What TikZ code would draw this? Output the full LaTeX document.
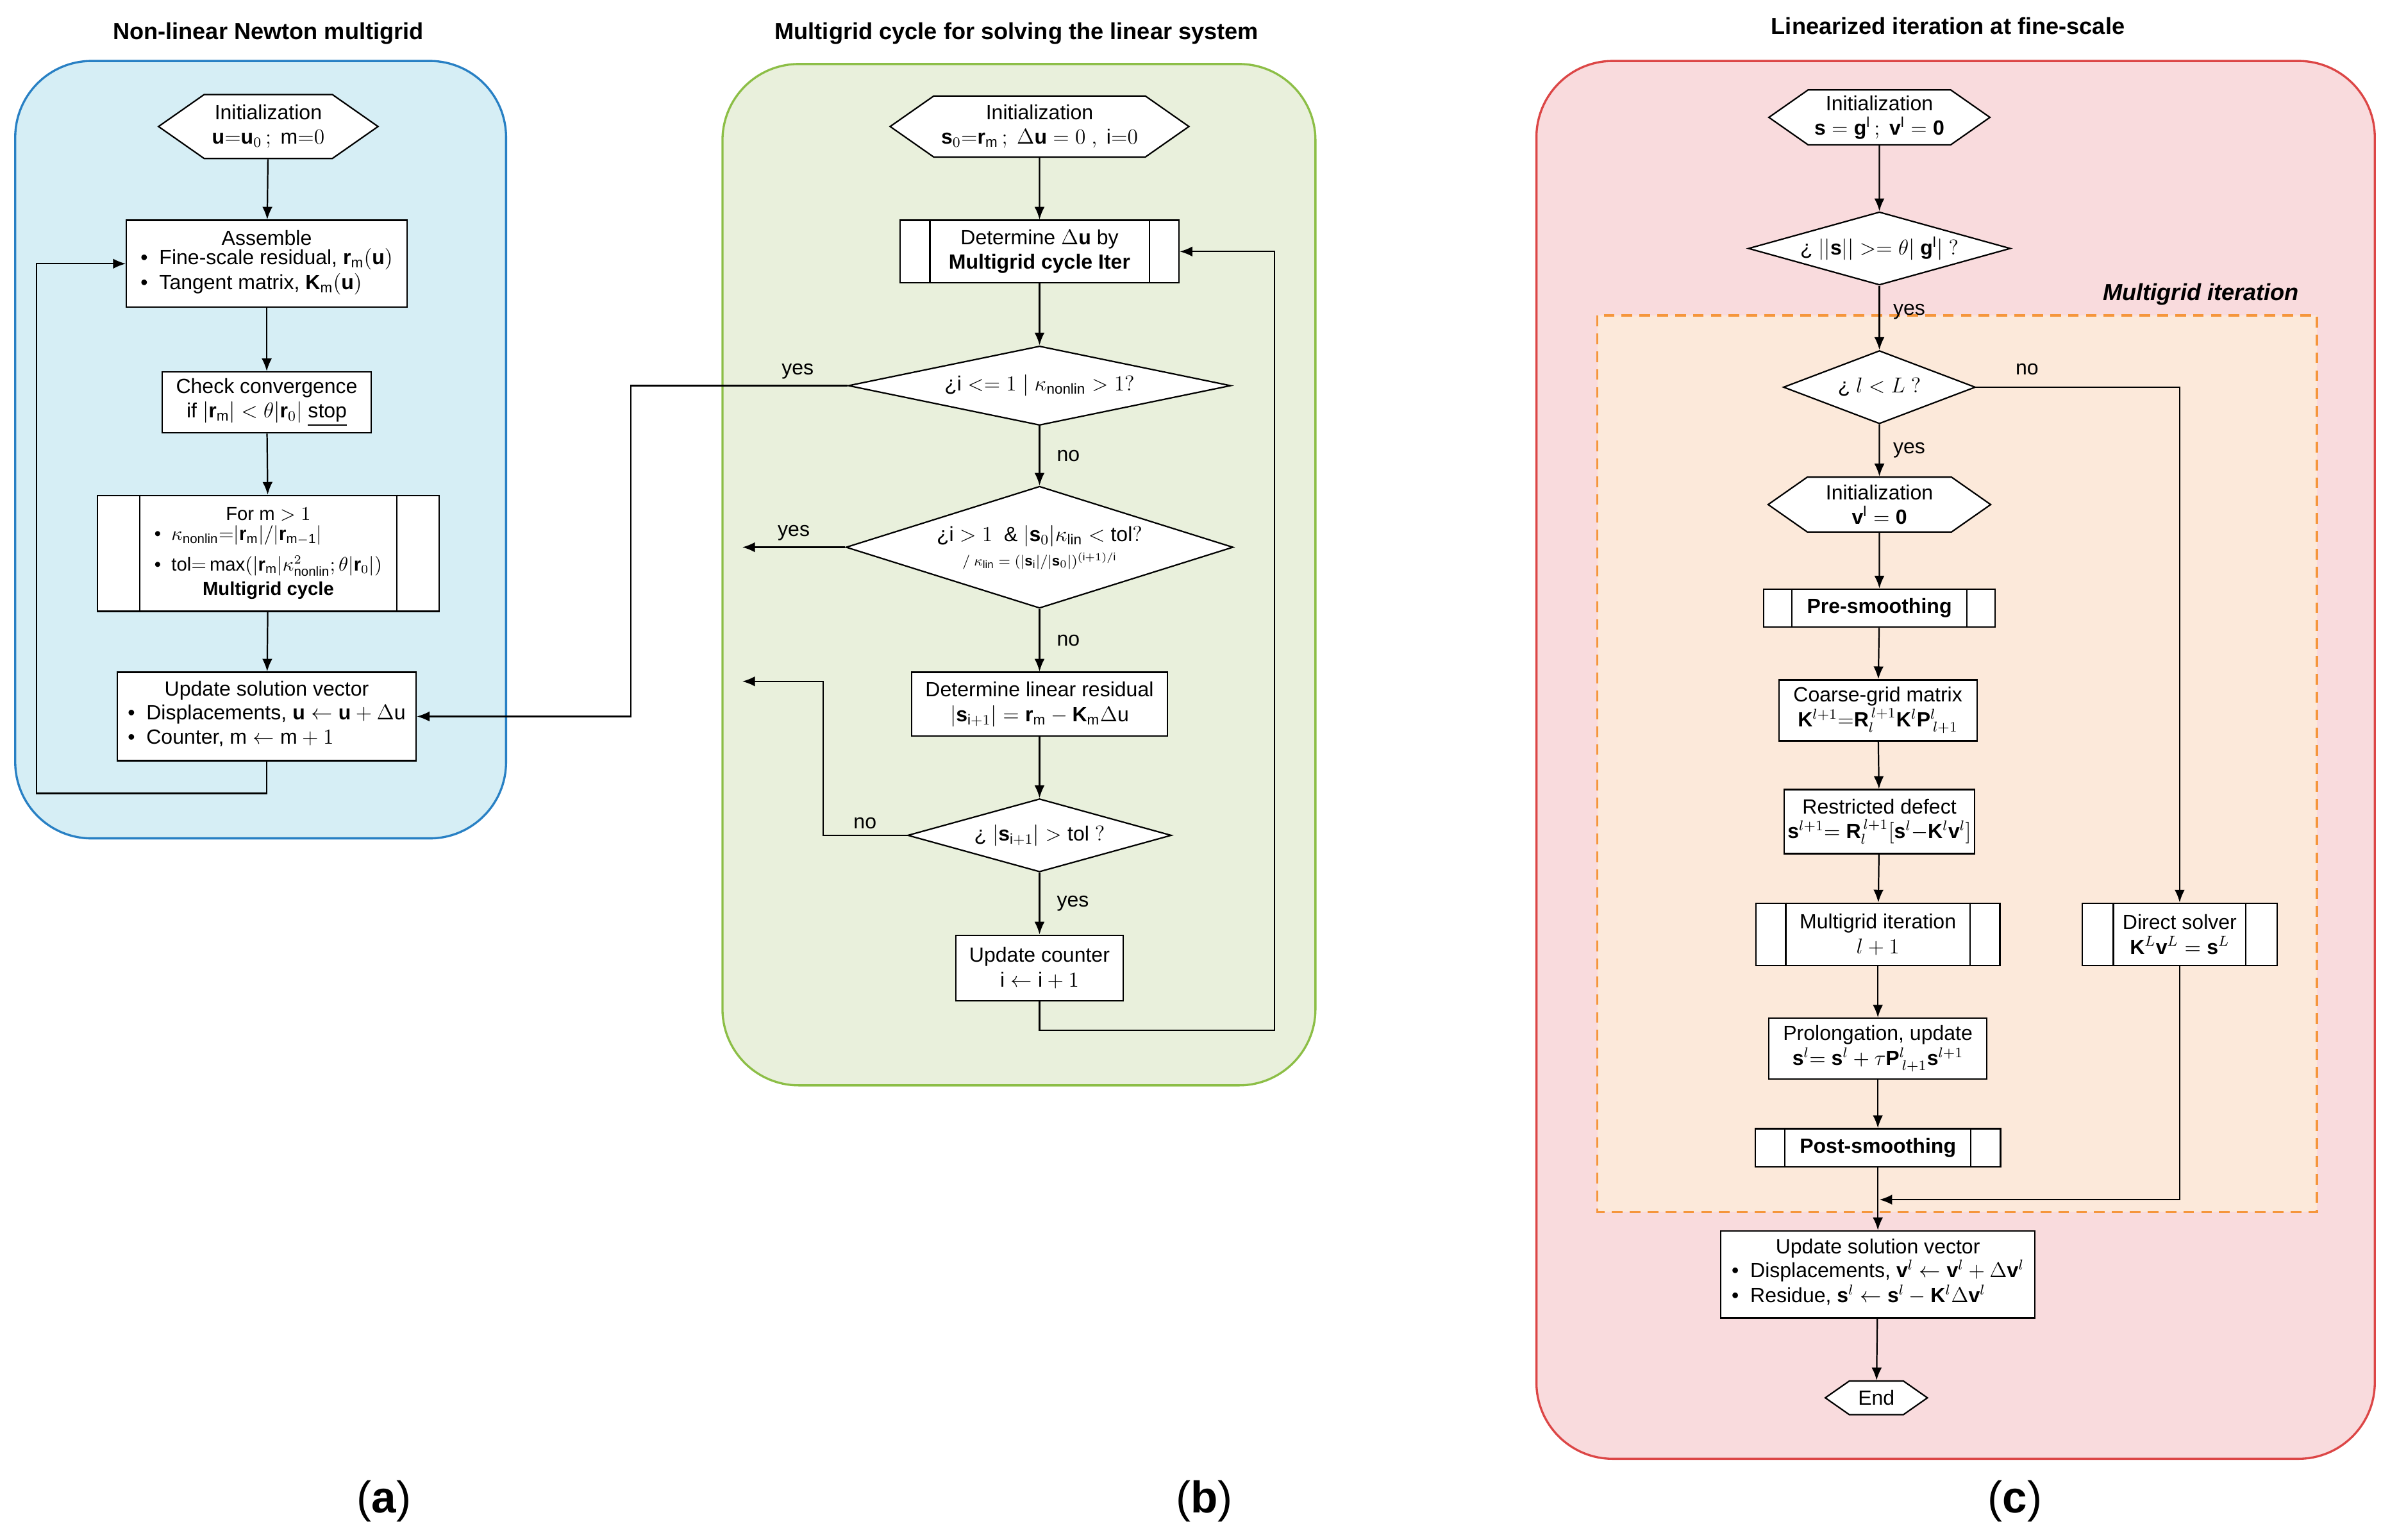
\documentclass[tikz,border=0pt]{standalone}
\usepackage{amsmath}
\usepackage{amssymb}
\usepackage{fontspec}
\setmainfont{Liberation Sans}
\usetikzlibrary{shapes.geometric,shapes.symbols,arrows.meta,calc}

\definecolor{panelA}{RGB}{214,238,245}
\definecolor{borderA}{RGB}{40,128,196}
\definecolor{panelB}{RGB}{233,240,220}
\definecolor{borderB}{RGB}{140,190,70}
\definecolor{panelC}{RGB}{249,219,221}
\definecolor{borderC}{RGB}{220,70,70}
\definecolor{panelM}{RGB}{252,233,218}
\definecolor{borderM}{RGB}{245,150,60}

\tikzset{
  panel/.style={rounded corners=1.5cm, line width=1.2pt},
  box/.style={draw, fill=white, line width=0.8pt, align=center, inner sep=2pt,
    font=\fontsize{11.5}{13.8}\selectfont},
  init/.style={box, shape=signal, signal to=east and west, signal pointer angle=70},
  test/.style={draw, fill=white, line width=0.8pt, diamond, inner sep=0pt,
    label={[align=center, font=\fontsize{11.5}{13.8}\selectfont]center:#1}},
  process/.style={box},
  arr/.style={-{Latex[length=2.5mm,width=2mm]}, line width=0.8pt},
  lbl/.style={font=\fontsize{11.5}{13.8}\selectfont},
  title/.style={font=\bfseries\fontsize{13}{15}\selectfont}
}
\newcommand{\bars}[2]{%
  \draw[line width=0.8pt] ([xshift=#2]#1.north west) -- ([xshift=#2]#1.south west);
  \draw[line width=0.8pt] ([xshift=-#2]#1.north east) -- ([xshift=-#2]#1.south east);}

\begin{document}
\begin{tikzpicture}[x=0.03cm, y=-0.03cm]
    \useasboundingbox (0,0) rectangle (1568,1010);
    % panels
    \draw[panel, draw=borderA, fill=panelA] (10,40) rectangle (332,550);
    \draw[panel, draw=borderB, fill=panelB] (474,42) rectangle (863,712);
    \draw[panel, draw=borderC, fill=panelC] (1008,40) rectangle (1558,957);
    \draw[draw=borderM, fill=panelM, dashed, line width=1.2pt, dash pattern=on 6pt off 4pt] (1048,207) rectangle (1520,795);
    \node[title] at (176,22) {Non-linear Newton multigrid};
    \node[title] at (667,22) {Multigrid cycle for solving the linear system};
    \node[title] at (1278,17) {Linearized iteration at fine-scale};
    \node[font=\bfseries\itshape\fontsize{13}{15}\selectfont] at (1444,193) {Multigrid iteration};

    % (a)
    \node[init, minimum width=4.32cm, minimum height=1.26cm] (ainit) at (176,83)
      {Initialization\\ $\mathbf{u}{=}\mathbf{u}_0\,;\ \mathrm{m}{=}0$};
    \node[box, minimum width=5.52cm, minimum height=1.71cm] (aasm) at (175,173)
      {Assemble\\
       \begin{tabular}{@{}l@{\ \ }l@{}}\textbullet & Fine-scale residual, $\mathbf{r}_\mathrm{m}(\mathbf{u})$\\
       \textbullet & Tangent matrix, $\mathbf{K}_\mathrm{m}(\mathbf{u})$\end{tabular}};
    \node[box, minimum width=4.11cm, minimum height=1.2cm] (acheck) at (175,264)
      {Check convergence\\ if $|\mathbf{r}_\mathrm{m}| < \theta|\mathbf{r}_0|$ \underline{stop}};
    \node[process, minimum width=6.72cm, minimum height=2.28cm,
      font=\fontsize{10.5}{14}\selectfont] (afor) at (176,363)
      {For $\mathrm{m} > 1$\\
       \begin{tabular}{@{}l@{\ \ }l@{}}\textbullet & $\kappa_\mathrm{nonlin}{=}|\mathbf{r}_\mathrm{m}|/|\mathbf{r}_\mathrm{m-1}|$\\[3pt]
       \textbullet & $\mathrm{tol}{=}\max(|\mathbf{r}_\mathrm{m}|\kappa^2_\mathrm{nonlin};\theta|\mathbf{r}_0|)$\end{tabular}\\[1pt]
       \textbf{Multigrid cycle}};
    \bars{afor}{0.84cm}
    \node[box, minimum width=5.88cm, minimum height=1.74cm] (aupd) at (175,470)
      {Update solution vector\\
       \begin{tabular}{@{}l@{\ \ }l@{}}\textbullet & Displacements, $\mathbf{u} \leftarrow \mathbf{u} + \Delta \mathrm{u}$\\
       \textbullet & Counter, $\mathrm{m} \leftarrow \mathrm{m} + 1$\end{tabular}};
    \draw[arr] (ainit) -- (aasm);
    \draw[arr] (aasm) -- (acheck);
    \draw[arr] (acheck) -- (afor);
    \draw[arr] (afor) -- (aupd);
    \draw[arr] (aupd.south) -- ++(0,21) -| (24,173) -- (aasm.west);

    % (b)
    \node[init, minimum width=5.88cm, minimum height=1.2cm] (binit) at (682,83)
      {Initialization\\ $\mathbf{s}_0{=}\mathbf{r}_\mathrm{m}\,;\ \Delta\mathbf{u}=0\ ,\ \mathrm{i}{=}0$};
    \node[process, minimum width=5.49cm, minimum height=1.23cm] (bdet) at (682,165)
      {Determine $\Delta\mathbf{u}$ by\\ \textbf{Multigrid cycle Iter}};
    \bars{bdet}{0.6cm}
    \node[test={$\text{¿}\mathrm{i} <= 1 \mid \kappa_\mathrm{nonlin} > 1?$},
      minimum width=7.53cm, minimum height=1.56cm] (bq1) at (682,253) {};
    \node[test={$\text{¿}\mathrm{i} > 1\ \ \&\ |\mathbf{s}_0|\kappa_\mathrm{lin} < \mathrm{tol}?$\\
       \footnotesize$/\ \kappa_\mathrm{lin} = (|\mathbf{s}_\mathrm{i}|/|\mathbf{s}_0|)^{(\mathrm{i}+1)/\mathrm{i}}$},
      minimum width=7.62cm, minimum height=2.4cm] (bq2) at (682,359) {};
    \node[box, minimum width=5.04cm, minimum height=1.26cm] (bres) at (682,462)
      {Determine linear residual\\ $|\mathbf{s}_{\mathrm{i}+1}| = \mathbf{r}_\mathrm{m} - \mathbf{K}_\mathrm{m}\Delta\mathrm{u}$};
    \node[test={$\text{¿}\ |\mathbf{s}_{\mathrm{i}+1}| > \mathrm{tol}\ ?$},
      minimum width=5.19cm, minimum height=1.44cm] (bq3) at (682,548) {};
    \node[box, minimum width=3.3cm, minimum height=1.29cm] (bcnt) at (682,635)
      {Update counter\\ $\mathrm{i} \leftarrow \mathrm{i} + 1$};
    \coordinate (bout2) at (487,359);
    \coordinate (bout3) at (487,447);
    \draw[arr] (binit) -- (bdet);
    \draw[arr] (bdet) -- (bq1);
    \draw[arr] (bq1) -- node[lbl, right=6pt] {no} (bq2);
    \draw[arr] (bq2) -- node[lbl, right=6pt] {no} (bres);
    \draw[arr] (bres) -- (bq3);
    \draw[arr] (bq3) -- node[lbl, right=6pt] {yes} (bcnt);
    \draw[arr] (bcnt.south) -- ++(0,19) -| (836,165) -- (bdet.east);
    \draw[arr] (bq1.west) -- node[lbl, above, pos=0.23] {yes} (414,253) |- (aupd.east);
    \draw[arr] (bq2.west) -- node[lbl, above] {yes} (bout2);
    \draw[arr] (bq3.west) -- node[lbl, above] {no} (540,548) |- (bout3);

    % (c)
    \node[init, minimum width=4.35cm, minimum height=1.08cm] (cinit) at (1233,77)
      {Initialization\\ $\mathbf{s} = \mathbf{g}^\mathrm{l}\,;\ \mathbf{v}^\mathrm{l} = \mathbf{0}$};
    \node[test={$\text{¿}\ ||\mathbf{s}|| >= \theta|\ \mathbf{g}^\mathrm{l}|\ ?$},
      minimum width=5.16cm, minimum height=1.44cm] (cq0) at (1233,163) {};
    \node[test={$\text{¿}\ l < L\ ?$},
      minimum width=3.78cm, minimum height=1.44cm] (cq1) at (1233,254) {};
    \node[init, minimum width=4.38cm, minimum height=1.08cm] (cinit2) at (1233,331)
      {Initialization\\ $\mathbf{v}^\mathrm{l} = \mathbf{0}$};
    \node[process, minimum width=4.56cm, minimum height=0.75cm] (cpre) at (1233,399)
      {\textbf{Pre-smoothing}};
    \bars{cpre}{0.57cm}
    \node[box, minimum width=3.9cm, minimum height=1.2cm] (ccoarse) at (1232,466)
      {Coarse-grid matrix\\ $\mathbf{K}^{l+1}{=}\mathbf{R}_l^{\,l+1}\mathbf{K}^l\mathbf{P}^l_{\,l+1}$};
    \node[box, minimum width=3.66cm, minimum height=1.26cm] (crestr) at (1233,539)
      {Restricted defect\\ $\mathbf{s}^{l+1}{=}\ \mathbf{R}_l^{\,l+1}[\mathbf{s}^l{-}\mathbf{K}^l\mathbf{v}^l]$};
    \node[process, minimum width=4.8cm, minimum height=1.23cm] (cmgi) at (1232,613)
      {Multigrid iteration\\ $l+1$};
    \bars{cmgi}{0.6cm}
    \node[box, minimum width=4.29cm, minimum height=1.2cm] (cprol) at (1232,688)
      {Prolongation, update\\ $\mathbf{s}^l{=}\ \mathbf{s}^l + \tau\mathbf{P}^l_{\,l+1}\mathbf{s}^{l+1}$};
    \node[process, minimum width=4.83cm, minimum height=0.75cm] (cpost) at (1232,753)
      {\textbf{Post-smoothing}};
    \bars{cpost}{0.6cm}
    \node[process, minimum width=3.84cm, minimum height=1.23cm] (cdir) at (1430,613)
      {Direct solver\\ $\mathbf{K}^L\mathbf{v}^L = \mathbf{s}^L$};
    \bars{cdir}{0.63cm}
    \node[box, minimum width=6.18cm, minimum height=1.71cm] (cupd) at (1232,836)
      {Update solution vector\\
       \begin{tabular}{@{}l@{\ \ }l@{}}\textbullet & Displacements, $\mathbf{v}^l \leftarrow \mathbf{v}^l + \Delta\mathbf{v}^l$\\
       \textbullet & Residue, $\mathbf{s}^l \leftarrow \mathbf{s}^l - \mathbf{K}^l\Delta\mathbf{v}^l$\end{tabular}};
    \node[init, minimum width=2.01cm, minimum height=0.66cm, inner sep=1pt] (cend) at (1231,917) {End};
    \coordinate (cjoin) at (1233,787);
    \draw[arr] (cinit) -- (cq0);
    \draw[arr] (cq0) -- node[lbl, right=4pt, pos=0.4] {yes} (cq1);
    \draw[arr] (cq1) -- node[lbl, right=4pt] {yes} (cinit2);
    \draw[arr] (cinit2) -- (cpre);
    \draw[arr] (cpre) -- (ccoarse);
    \draw[arr] (ccoarse) -- (crestr);
    \draw[arr] (crestr) -- (cmgi);
    \draw[arr] (cmgi) -- (cprol);
    \draw[arr] (cprol) -- (cpost);
    \draw[arr] (cpost) -- (cupd);
    \draw[arr] (cupd) -- (cend);
    \draw[arr] (cq1.east) -- node[lbl, above=3pt, pos=0.25] {no} (1430,254) -- (cdir.north);
    \draw[arr] (cdir.south) |- (cjoin);

    % sub-figure labels
    \node[font=\Huge\rmfamily] at (252,985) {(\textbf{a})};
    \node[font=\Huge\rmfamily] at (790,985) {(\textbf{b})};
    \node[font=\Huge\rmfamily] at (1322,985) {(\textbf{c})};
\end{tikzpicture}
\end{document}
